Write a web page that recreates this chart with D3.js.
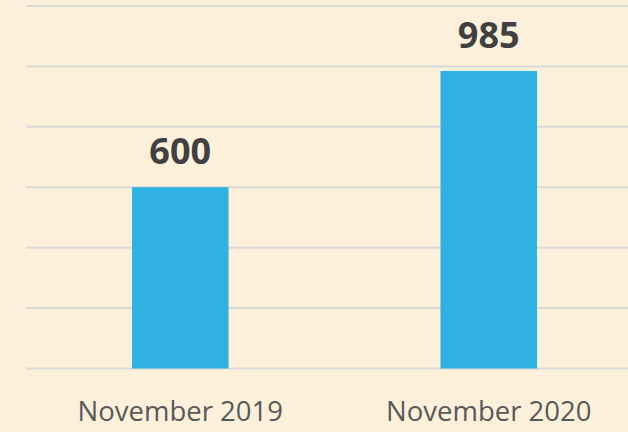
<!DOCTYPE html>
<html>
<head>
<meta charset="utf-8">
<script src="https://cdn.jsdelivr.net/npm/d3@7"></script>
<style>
  html, body { margin: 0; padding: 0; background: #FDF0DA; }
  svg { display: block; }
</style>
</head>
<body>
<div id="chart"></div>
<script>
const categories = ["November 2019", "November 2020"];
const values = [600, 985];
const yTicks = [0, 200, 400, 600, 800, 1000, 1200];

const W = 628, H = 432;
const margin = { top: 6, right: -15, bottom: 63.5, left: 26 };

const svg = d3.select("#chart")
  .append("svg")
    .attr("width", W)
    .attr("height", H);

svg.append("rect")
  .attr("width", W)
  .attr("height", H)
  .attr("fill", "#FDF0DA");

const x = d3.scaleBand()
  .domain(categories)
  .range([margin.left, W - margin.right])
  .paddingInner(0.687)
  .paddingOuter(0.3435);

const y = d3.scaleLinear()
  .domain([0, 1200])
  .range([H - margin.bottom, margin.top]);

// gridlines
svg.append("g")
  .selectAll("line")
  .data(yTicks)
  .enter()
  .append("line")
    .attr("x1", margin.left)
    .attr("x2", W)
    .attr("y1", d => y(d))
    .attr("y2", d => y(d))
    .attr("stroke", "#D9D9D9")
    .attr("stroke-width", 2);

// bars
svg.append("g")
  .selectAll("rect")
  .data(values)
  .enter()
  .append("rect")
    .attr("x", (d, i) => x(categories[i]))
    .attr("y", d => y(d))
    .attr("width", x.bandwidth())
    .attr("height", d => y(0) - y(d))
    .attr("fill", "#2FB1E2");

// value labels
svg.append("g")
  .selectAll("text")
  .data(values)
  .enter()
  .append("text")
    .attr("x", (d, i) => x(categories[i]) + x.bandwidth() / 2)
    .attr("y", d => y(d) - 23)
    .attr("text-anchor", "middle")
    .attr("font-family", "'Open Sans', sans-serif")
    .attr("font-weight", "bold")
    .attr("font-size", "36px")
    .attr("fill", "#404040")
    .text(d => d);

// category labels
svg.append("g")
  .selectAll("text")
  .data(categories)
  .enter()
  .append("text")
    .attr("x", d => x(d) + x.bandwidth() / 2)
    .attr("y", 421)
    .attr("text-anchor", "middle")
    .attr("font-family", "'Open Sans', sans-serif")
    .attr("font-size", "27.5px")
    .attr("fill", "#595959")
    .text(d => d);
</script>
</body>
</html>
